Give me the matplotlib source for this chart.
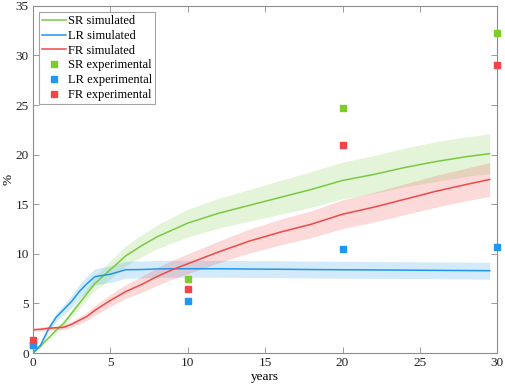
import numpy as np
import matplotlib.pyplot as plt

plt.rcParams["font.family"] = ["Liberation Serif", "DejaVu Serif"]
plt.rcParams["mathtext.fontset"] = "stix"

#---------------------------- data ----------------------------
years = [0, 0.5, 1, 1.5, 2, 2.5, 3, 3.5, 4, 5, 6, 7, 8, 9, 10,
         12, 14, 16, 18, 20, 22, 24, 26, 28, 29.5]

sr_sim = [0, 0.7, 1.5, 2.3, 3.0, 4.0, 5.0, 6.0, 7.0, 8.4, 9.8, 10.8, 11.7, 12.4, 13.1,
          14.1, 14.9, 15.7, 16.5, 17.4, 18.0, 18.7, 19.3, 19.8, 20.1]
lr_sim = [0, 0.8, 2.4, 3.6, 4.4, 5.2, 6.2, 7.0, 7.7, 7.95, 8.4, 8.42, 8.48, 8.5, 8.5,
          8.5, 8.47, 8.45, 8.42, 8.4, 8.38, 8.36, 8.34, 8.32, 8.3]
fr_sim = [2.35, 2.4, 2.5, 2.55, 2.6, 2.9, 3.3, 3.7, 4.3, 5.3, 6.2, 6.9, 7.7, 8.4, 9.0,
          10.2, 11.3, 12.2, 13.0, 14.0, 14.7, 15.5, 16.3, 17.0, 17.5]

# half widths of the shaded bands
sr_band = [0, 0.1, 0.2, 0.3, 0.35, 0.4, 0.5, 0.6, 0.7, 0.9, 1.0, 1.1, 1.2, 1.3, 1.4,
           1.5, 1.6, 1.7, 1.8, 1.85, 1.9, 1.95, 2.0, 2.0, 2.0]
lr_band = [0, 0.15, 0.3, 0.4, 0.5, 0.6, 0.7, 0.75, 0.8, 0.85, 0.85, 0.85, 0.85, 0.85, 0.85,
           0.85, 0.85, 0.85, 0.85, 0.85, 0.85, 0.85, 0.85, 0.85, 0.85]
fr_band = [0.15, 0.2, 0.2, 0.2, 0.25, 0.3, 0.35, 0.4, 0.5, 0.6, 0.7, 0.8, 0.9, 0.95, 1.0,
           1.1, 1.2, 1.3, 1.35, 1.45, 1.5, 1.55, 1.6, 1.65, 1.7]

exp_years = [0, 10, 20, 30]
sr_exp = [0.8, 7.5, 24.7, 32.3]
lr_exp = [0.8, 5.2, 10.5, 10.7]
fr_exp = [1.3, 6.5, 21.0, 29.0]

#---------------------------- styling ----------------------------
c_sr = "#7ac943"
c_lr = "#2196e8"
c_fr = "#f04848"
c_sr_m = "#7dcc2a"
c_lr_m = "#2196f3"
c_fr_m = "#f2444a"

fig = plt.figure(figsize=(5.05, 3.91), dpi=100)
ax = fig.add_axes([0.065, 0.097, 0.92, 0.888])

x = np.array(years)
for sim, band, col in [(sr_sim, sr_band, c_sr), (lr_sim, lr_band, c_lr), (fr_sim, fr_band, c_fr)]:
    sim = np.array(sim)
    band = np.array(band)
    ax.fill_between(x, sim - band, sim + band, color=col, alpha=0.2, linewidth=0)

ax.plot(years, sr_sim, color=c_sr, lw=1.1, label="SR simulated")
ax.plot(years, lr_sim, color=c_lr, lw=1.1, label="LR simulated")
ax.plot(years, fr_sim, color=c_fr, lw=1.1, label="FR simulated")

ax.plot(exp_years, sr_exp, "s", color=c_sr_m, ms=4, clip_on=False, zorder=5, label="SR experimental")
ax.plot(exp_years, lr_exp, "s", color=c_lr_m, ms=4, clip_on=False, zorder=5, label="LR experimental")
ax.plot(exp_years, fr_exp, "s", color=c_fr_m, ms=4, clip_on=False, zorder=5, label="FR experimental")

ax.set_xlim(0, 30)
ax.set_ylim(0, 35)
ax.set_xticks(range(0, 31, 5))
ax.set_yticks(range(0, 36, 5))
ax.set_xlabel("years", fontsize=9.5)
ax.set_ylabel("%", fontsize=9.5)
ax.xaxis.set_label_coords(0.5, -0.052)
ax.yaxis.set_label_coords(-0.04, 0.5)

for s in ax.spines.values():
    s.set_color("#8c8c8c")
    s.set_linewidth(0.8)
ax.tick_params(direction="in", top=True, right=True, length=4, width=0.6,
               color="#8c8c8c", labelsize=9.5, labelcolor="#222222", pad=3)

leg = ax.legend(loc="upper left", fontsize=9, frameon=True, fancybox=False,
                edgecolor="#8c8c8c", borderpad=0.25, labelspacing=0.22,
                handlelength=1.9, handletextpad=0.15, borderaxespad=0.5)
leg.get_frame().set_linewidth(0.8)

fig.savefig("out.png", dpi=100)
